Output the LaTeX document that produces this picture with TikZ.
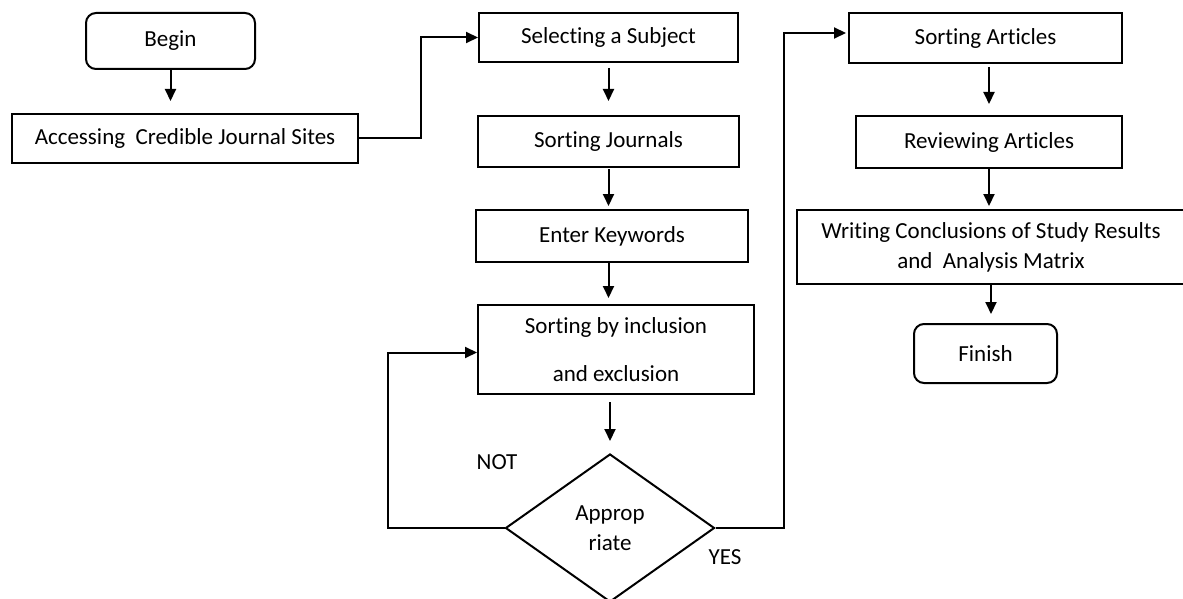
\documentclass[tikz,border=0pt]{standalone}
\usepackage{fontspec}
\setmainfont{Carlito}[Ligatures=NoCommon]
\usetikzlibrary{shapes.geometric, arrows.meta, positioning}

\begin{document}
\begin{tikzpicture}[
    x=1pt, y=-1pt,
    every node/.style={font=\fontsize{23}{30}\selectfont},
    block/.style={rectangle, draw=black, line width=2pt, inner sep=0pt, align=center},
    term/.style={block, rounded corners=10pt},
    decision/.style={diamond, draw=black, line width=2pt, inner sep=0pt, align=center},
    flow/.style={line width=2pt, -{Triangle[length=12pt, width=11pt]}},
]
\useasboundingbox (0,0) rectangle (1183,599);

% left and middle column
\node[term, minimum width=169pt, minimum height=56pt] (begin) at (170.5,41) {Begin};
\node[block, minimum width=346pt, minimum height=49pt] (access) at (185,138.5) {Accessing~ Credible Journal Sites};
\node[block, minimum width=259pt, minimum height=49pt] (subject) at (608.5,37.5) {Selecting a Subject};
\node[block, minimum width=261pt, minimum height=51pt] (journals) at (608.5,141.5) {Sorting Journals};
\node[block, minimum width=272pt, minimum height=52pt] (keywords) at (612,236) {Enter Keywords};
\node[block, minimum width=276pt, minimum height=89pt] (inclusion) at (616,349.5) {Sorting by inclusion\\[18pt]and exclusion};
\node[decision, minimum width=209pt, minimum height=148pt] (check) at (610,528) {Approp\\riate};

% right column
\node[block, minimum width=273pt, minimum height=50pt] (sorting) at (985.5,38) {Sorting Articles};
\node[block, minimum width=266pt, minimum height=52pt] (review) at (989,142) {Reviewing Articles};
\node[block, minimum width=388pt, minimum height=74pt] (writing) at (991,247) {Writing Conclusions of Study Results\\and~ Analysis Matrix};
\node[term, minimum width=143pt, minimum height=59pt] (finish) at (985.5,353.5) {Finish};

\node (notlabel) at (497,462) {NOT};
\node (yeslabel) at (725,557) {YES};

\draw[flow, shorten >=12pt] (begin.south) -- (begin.south |- access.north);
\draw[flow] (access.east) -- ++(62,0) |- (subject.west);
\draw[flow, shorten <=5pt, shorten >=14pt] (subject.south) -- (journals.north);
\draw[flow, shorten <=1pt, shorten >=3pt] (journals.south) -- (journals.south |- keywords.north);
\draw[flow, shorten >=6pt] (keywords.south -| journals.south) -- (journals.south |- inclusion.north);
\draw[flow, shorten <=7pt, shorten >=12pt] (check.north |- inclusion.south) -- (check.north);
\draw[flow] (check.west) -- ++(-117,0) |- ([yshift=-3pt]inclusion.west);
\draw[flow, shorten >=2pt] (check.east) -- ++(68,0) |- ([yshift=5pt]sorting.west);
\draw[flow, shorten <=3pt, shorten >=11pt] (review.north |- sorting.south) -- (review.north);
\draw[flow, shorten >=3pt] (review.south) -- (review.south |- writing.north);
\draw[flow, shorten >=9pt] (writing.south) -- (writing.south |- finish.north);
\end{tikzpicture}
\end{document}
